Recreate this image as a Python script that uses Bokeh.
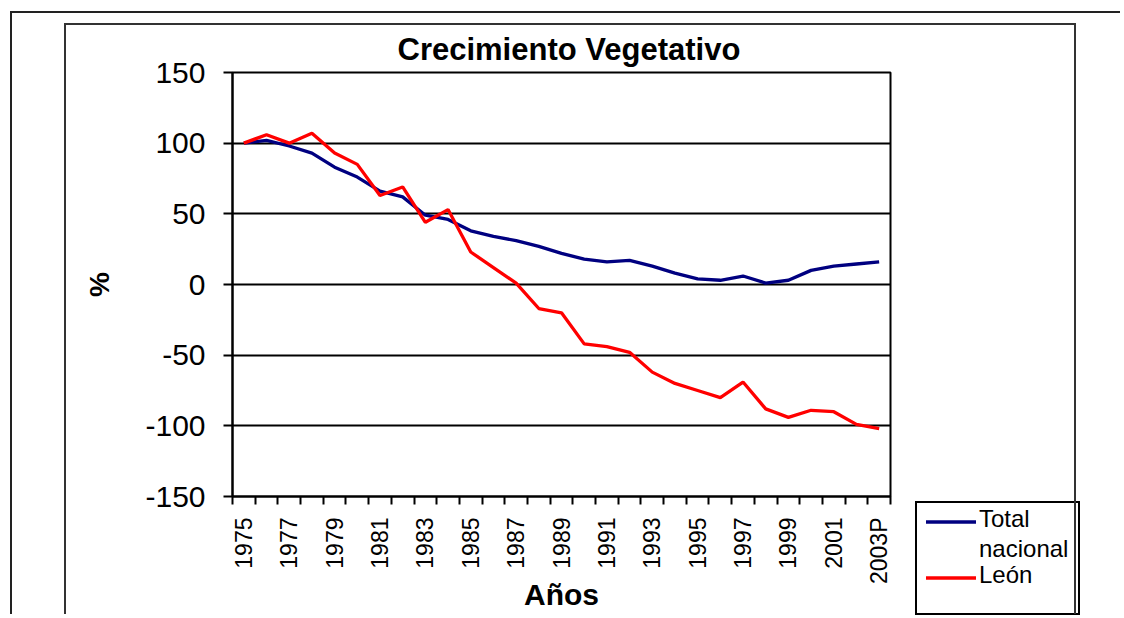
import math
from bokeh.plotting import figure
from bokeh.layouts import row
from bokeh.models import (FixedTicker, ColumnDataSource, Range1d,
                          InlineStyleSheet, Div)
from bokeh.embed import file_html
from bokeh.resources import INLINE

# ---- data ----
years = ["1975", "1976", "1977", "1978", "1979", "1980", "1981", "1982", "1983",
         "1984", "1985", "1986", "1987", "1988", "1989", "1990", "1991", "1992",
         "1993", "1994", "1995", "1996", "1997", "1998", "1999", "2000", "2001",
         "2002", "2003P"]
total_nacional = [100, 102, 98, 93, 83, 76, 66, 62, 49, 46, 38, 34, 31, 27, 22,
                  18, 16, 17, 13, 8, 4, 3, 6, 1, 3, 10, 13, 14.5, 16]
leon = [100, 106, 100, 107, 93, 85, 63, 69, 44, 53, 23, 12, 1, -17, -20,
        -42, -44, -48, -62, -70, -75, -80, -69, -88, -94, -89, -90, -99, -102]
y_ticks = [-150, -100, -50, 0, 50, 100, 150]
y_tick_labels = ["-150", "-100", "-50", "0", "50", "100", "150"]
title_text = "Crecimiento Vegetativo"
x_title = "Años"
y_title = "%"
series_names = [["Total", "nacional"], ["León"]]
colors = ["#000080", "#ff0000"]

FONT = "Liberation Sans"
H = 614

n = len(years)
xpos = [i + 0.5 for i in range(n)]
src = ColumnDataSource(dict(x=xpos, year=years, total=total_nacional, leon=leon))

p = figure(width=911, height=H, output_backend="svg", toolbar_location=None,
           x_range=Range1d(0, n), y_range=Range1d(y_ticks[0], y_ticks[-1]),
           min_border_left=232, min_border_right=21, min_border_top=72,
           min_border_bottom=H - 497)

p.background_fill_color = "white"
p.border_fill_color = "white"
p.outline_line_color = "black"
p.outline_line_width = 2

# title
p.title.text = title_text
p.title.align = "left"
p.title.offset = 165
p.title.standoff = 12
p.title.text_font = FONT
p.title.text_font_size = "31px"
p.title.text_font_style = "bold"
p.title.text_color = "black"

# grid
p.xgrid.visible = False
p.ygrid.ticker = FixedTicker(ticks=y_ticks[1:-1])
p.ygrid.grid_line_color = "black"
p.ygrid.grid_line_width = 1.8
p.ygrid.grid_line_alpha = 1.0

# y axis
ya = p.yaxis[0]
ya.ticker = FixedTicker(ticks=y_ticks)
ya.major_label_overrides = dict(zip(y_ticks, y_tick_labels))
ya.axis_line_color = "black"
ya.axis_line_width = 2
ya.major_tick_out = 9
ya.major_tick_in = 0
ya.major_tick_line_width = 2
ya.major_tick_line_color = "black"
ya.minor_tick_out = 0
ya.major_label_standoff = 18
ya.major_label_text_font = FONT
ya.major_label_text_font_size = "30px"
ya.major_label_text_color = "black"
ya.axis_label = y_title
ya.axis_label_text_font = FONT
ya.axis_label_text_font_size = "28px"
ya.axis_label_text_font_style = "bold"
ya.axis_label_text_color = "black"
ya.axis_label_standoff = 27

# x axis: labels at category centres (every other), ticks at boundaries
xa = p.xaxis[0]
label_idx = list(range(0, n, 2))
xa.ticker = FixedTicker(ticks=[xpos[i] for i in label_idx],
                        minor_ticks=list(range(n + 1)))
xa.major_label_overrides = {xpos[i]: years[i] for i in label_idx}
xa.major_label_orientation = math.pi / 2
xa.axis_line_color = "black"
xa.axis_line_width = 2
xa.major_tick_out = 0
xa.major_tick_in = 0
xa.minor_tick_out = 8
xa.minor_tick_in = 0
xa.minor_tick_line_color = "black"
xa.minor_tick_line_width = 2
xa.major_label_standoff = 13
xa.major_label_text_font = FONT
xa.major_label_text_font_size = "23px"
xa.major_label_text_color = "black"
xa.axis_label = x_title
xa.axis_label_text_font = FONT
xa.axis_label_text_font_size = "30px"
xa.axis_label_text_font_style = "bold"
xa.axis_label_text_color = "black"
xa.axis_label_standoff = -9

# lines
p.line("x", "total", source=src, line_color=colors[0], line_width=3.3)
p.line("x", "leon", source=src, line_color=colors[1], line_width=3.3)

# decorative frames around the chart (drawn with CSS around the canvas)
p.stylesheets = [InlineStyleSheet(css="""
:host { position: relative; }
:host::before {
  content: ""; position: absolute; z-index: 20; pointer-events: none;
  left: 10px; top: 11px; width: 1110px; height: 603px;
  border-left: 2px solid #222; border-top: 2px solid #222;
}
:host::after {
  content: ""; position: absolute; z-index: 20; pointer-events: none;
  left: 64px; top: 23px; width: 1012px; height: 591px;
  border-left: 2px solid #333; border-top: 2px solid #333;
  border-right: 2px solid #333;
}
""")]

# ---- legend box (SVG) placed to the right of the plot ----
LX, LY, LW, LH = 5, 502, 163, 112
parts = [f'<svg xmlns="http://www.w3.org/2000/svg" width="205" height="{H}" '
         f'style="position:absolute;left:0;top:0;overflow:visible">',
         f'<rect x="{LX}" y="{LY}" width="{LW}" height="{LH}" fill="white" '
         f'stroke="black" stroke-width="2"/>']
line_y = [LY + 20, LY + 76]
for k, (names, col) in enumerate(zip(series_names, colors)):
    yy = line_y[k]
    parts.append(f'<line x1="{LX + 10}" y1="{yy}" x2="{LX + 60}" y2="{yy}" '
                 f'stroke="{col}" stroke-width="3.3"/>')
    for j, t in enumerate(names):
        parts.append(f'<text x="{LX + 63}" y="{yy + 5 + 30 * j}" '
                     f'font-family="{FONT}" font-size="24px" fill="black">{t}</text>')
parts.append('</svg>')
legend_div = Div(text="".join(parts), width=205, height=H, margin=0,
                 styles={"position": "relative", "overflow": "visible"})

layout = row(p, legend_div)
open("out.html", "w").write(file_html(layout, INLINE))
